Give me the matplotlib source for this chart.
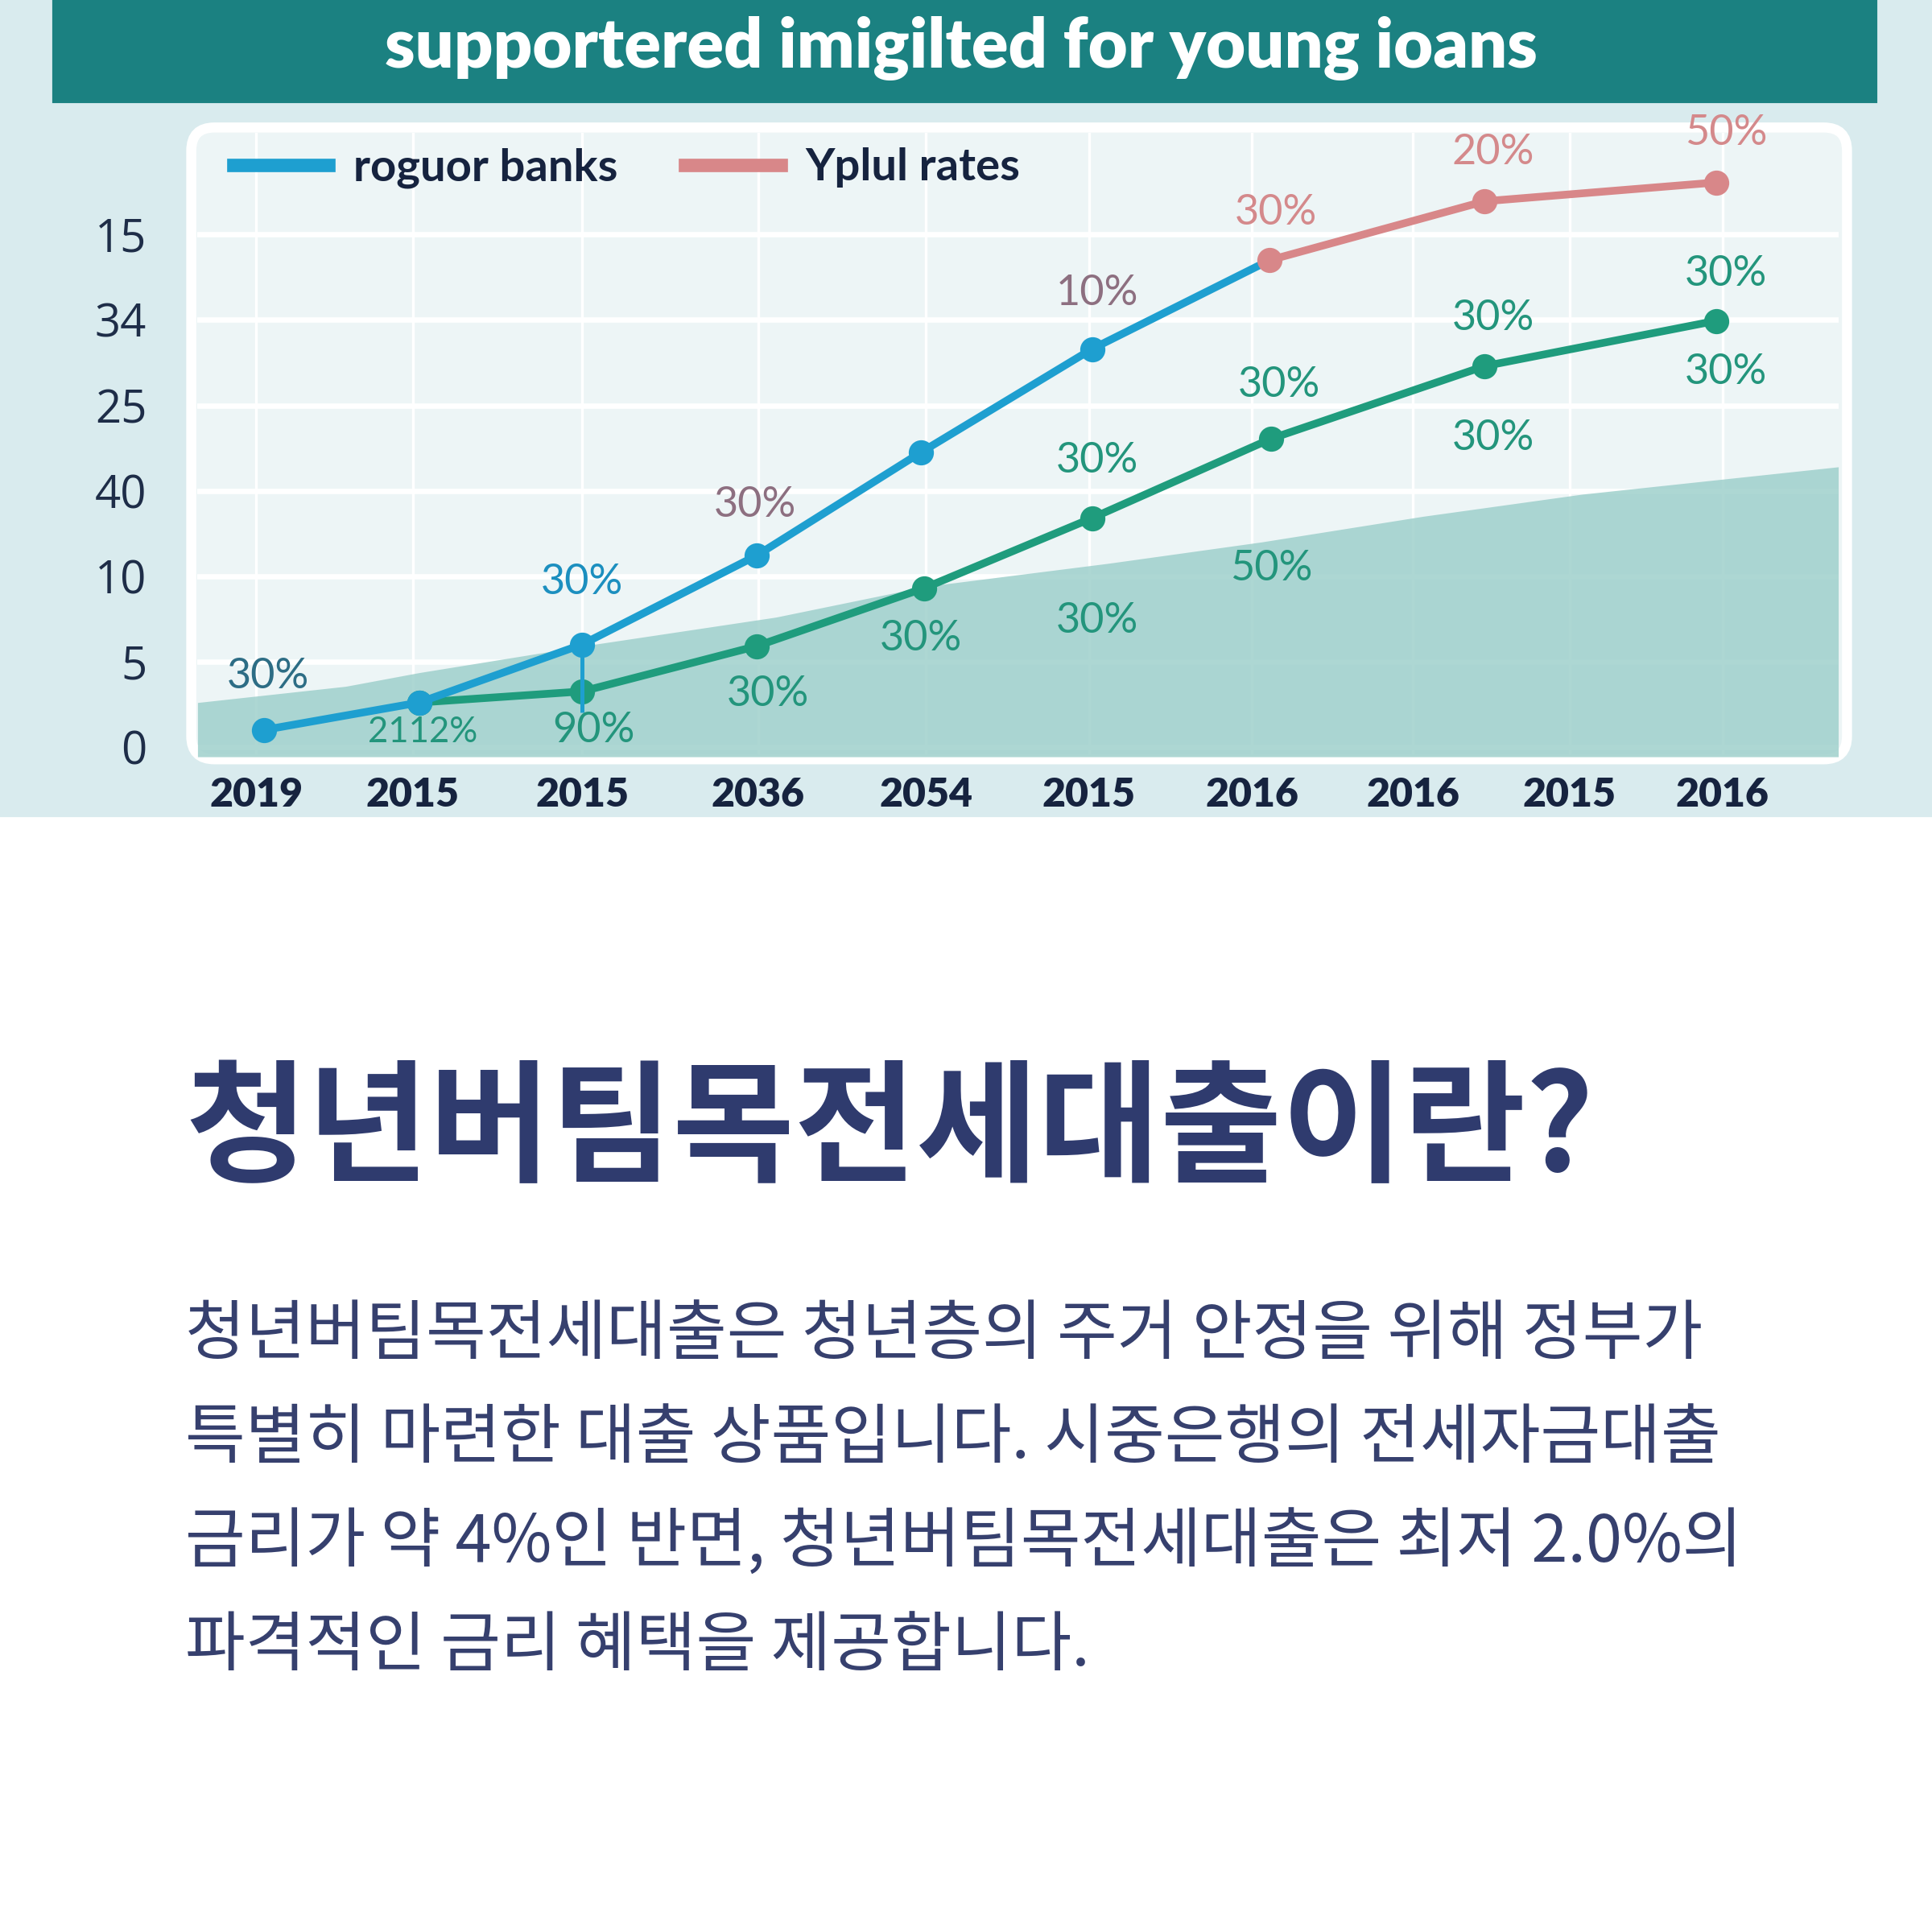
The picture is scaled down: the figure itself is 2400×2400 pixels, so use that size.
import matplotlib
matplotlib.use("Agg")
import matplotlib.pyplot as plt
from matplotlib.patches import Rectangle, FancyBboxPatch
from matplotlib.lines import Line2D
from matplotlib.font_manager import FontProperties

# ---- data ----
x_tick_pos = [0, 0.96, 2.0, 3.08, 4.11, 5.11, 6.11, 7.10, 8.06, 9.0]
x_tick_labels = ["2019", "2015", "2015", "2036", "2054", "2015", "2016", "2016", "2015", "2016"]
y_tick_pos = [0, 1, 2, 3, 4, 5, 6]
y_tick_labels = ["0", "5", "10", "40", "25", "34", "15"]

blue_x = [0.05, 1.0, 2.0, 3.07, 4.08, 5.13, 6.22]
blue_y = [0.20, 0.52, 1.20, 2.24, 3.45, 4.66, 5.70]

pink_x = [6.22, 7.54, 8.96]
pink_y = [5.70, 6.39, 6.61]

green_x = [1.0, 2.0, 3.07, 4.10, 5.13, 6.23, 7.54, 8.96]
green_y = [0.52, 0.65, 1.18, 1.86, 2.68, 3.61, 4.46, 4.99]

area_x = [-0.36, 0.55, 1.0, 2.07, 3.19, 4.11, 5.23, 6.17, 7.16, 8.14, 9.71]
area_y = [0.52, 0.71, 0.87, 1.20, 1.52, 1.88, 2.15, 2.40, 2.70, 2.96, 3.28]

series_names = ["roguor banks", "Yplul rates"]

# point labels: text, x, y, colour key
pct_text = ["30%", "2112%", "90%", "30%", "30%", "30%", "30%", "30%", "10%", "30%",
            "30%", "30%", "50%", "20%", "30%", "30%", "50%", "30%", "30%"]
pct_x = [0.07, 1.02, 2.07, 2.0, 3.06, 3.14, 4.08, 5.16, 5.16, 5.16,
         6.26, 6.28, 6.23, 7.59, 7.59, 7.59, 9.02, 9.02, 9.02]
pct_y = [0.82, 0.17, 0.19, 1.93, 2.83, 0.62, 1.27, 3.35, 5.31, 1.47,
         6.25, 4.24, 2.09, 6.96, 5.02, 3.61, 7.19, 5.54, 4.39]
pct_kind = ["dark", "green", "green", "blue", "mauve", "green", "green", "green", "mauve", "green",
            "pink", "green", "green", "pink", "green", "green", "pink", "green", "green"]

title = "supportered imigilted for young ioans"
heading = "청년버팀목전세대출이란?"
body_lines = [
    "청년버팀목전세대출은 청년층의 주거 안정을 위해 정부가",
    "특별히 마련한 대출 상품입니다. 시중은행의 전세자금대출",
    "금리가 약 4%인 반면, 청년버팀목전세대출은 최저 2.0%의",
    "파격적인 금리 혜택을 제공합니다.",
]

# ---- styles ----
BLUE = "#1e9fd0"
PINK = "#d88789"
GREEN = "#1f9c7d"
NAVY = "#16233f"
label_colors = {"dark": "#2d6d85", "green": "#23957c", "blue": "#1c8fbf",
                "mauve": "#8d6f80", "pink": "#d4898b"}
KR = ["Noto Sans CJK KR", "DejaVu Sans"]

fig = plt.figure(figsize=(8, 8), dpi=300)
fig.patch.set_facecolor("white")

# top background + banner + chart panel
fig.patches.append(Rectangle((0, 0.578), 1, 0.422, transform=fig.transFigure,
                             color="#d9ebee", zorder=-3))
fig.patches.append(Rectangle((0.028, 0.9475), 0.943, 0.06, transform=fig.transFigure,
                             color="#1b8181", zorder=-2))
fig.patches.append(FancyBboxPatch((0.099, 0.607), 0.857, 0.327,
                                  boxstyle="round,pad=0,rounding_size=0.012",
                                  transform=fig.transFigure, fc="#edf5f6",
                                  ec="white", lw=3, zorder=-2))

fig.text(0.4975, 0.975, title, ha="center", va="center", color="white",
         fontsize=20.3, fontweight="heavy", family="Lato")

ax = fig.add_axes([0.102, 0.6083, 0.8495, 0.3229])
ax.set_zorder(2)
ax.set_facecolor("none")
for s in ax.spines.values():
    s.set_visible(False)
ax.set_xlim(-0.363, 9.71)
ax.set_ylim(-0.115, 7.19)

ax.set_axisbelow(True)
ax.set_yticks(y_tick_pos)
ax.set_yticklabels(y_tick_labels, fontsize=13.5, color="#1e2d48", family="Open Sans")
ax.set_xticks(x_tick_pos)
ax.set_xticklabels(x_tick_labels, fontsize=12, color=NAVY, family="Lato", fontweight="heavy")
ax.tick_params(axis="both", length=0)
ax.tick_params(axis="y", pad=15)
ax.tick_params(axis="x", pad=6)
ax.grid(axis="y", color="white", lw=1.6)
ax.grid(axis="x", color="white", lw=0.8)

ax.fill_between(area_x, area_y, -0.115, color="#9fd0cc", alpha=0.85, lw=0, zorder=1)

ax.plot(green_x, green_y, color=GREEN, lw=2.3, marker="o", ms=6.5, zorder=3)
ax.vlines(blue_x[2], green_y[1] - 0.25, blue_y[2], color=BLUE, lw=1.2, zorder=3)
ax.plot(blue_x, blue_y, color=BLUE, lw=2.3, marker="o", ms=6.5,
        markevery=list(range(len(blue_x) - 1)), zorder=4)
ax.plot(pink_x, pink_y, color=PINK, lw=2.3, marker="o", ms=6.5, zorder=5)

for t, x, y, k in zip(pct_text, pct_x, pct_y, pct_kind):
    ax.text(x, y, t, ha="center", va="center", color=label_colors[k],
            fontsize=10.5 if t == "2112%" else 12.5, family="Lato", zorder=6)

handles = [Line2D([], [], color=BLUE, lw=4), Line2D([], [], color=PINK, lw=4)]
leg = ax.legend(handles, series_names, loc="center left", bbox_to_anchor=(0.022, 0.944),
                ncol=2, frameon=False, handlelength=2.1, handletextpad=0.55,
                columnspacing=1.5, borderpad=0, borderaxespad=0,
                prop=FontProperties(family="Lato", weight="bold", size=13.5))
for t in leg.get_texts():
    t.set_color(NAVY)

# text block below the chart
fig.text(0.096, 0.414, heading, ha="left", va="center", color="#2f3b6e",
         fontsize=39.5, fontweight="bold", family=KR)
body_y = [0.309, 0.255, 0.201, 0.1475]
for line, y in zip(body_lines, body_y):
    fig.text(0.096, y, line, ha="left", va="center", color="#36406e",
             fontsize=19.5, family=KR)

fig.savefig("out.png", dpi=300, facecolor="white")
